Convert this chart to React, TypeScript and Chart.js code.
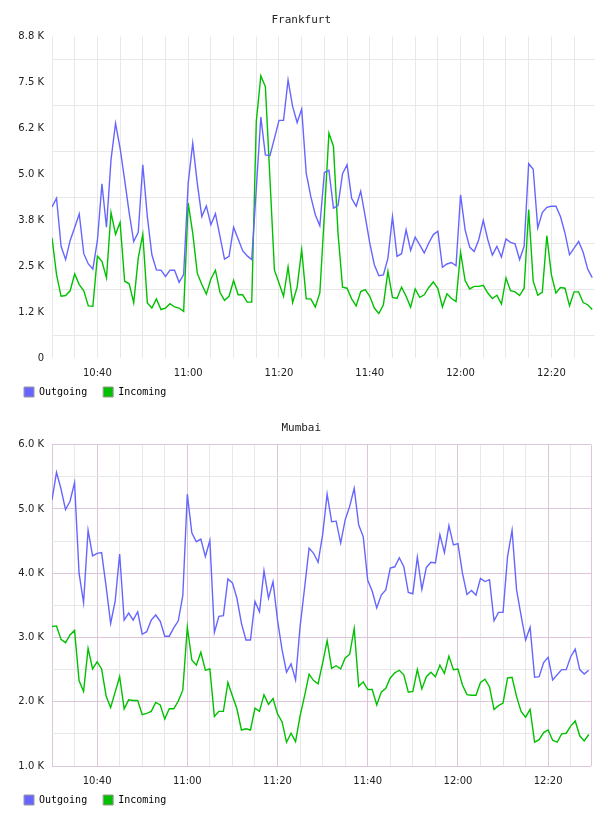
import React, { useEffect, useRef } from 'react';
import { Chart, registerables } from 'chart.js';

Chart.register(...registerables);

// Time axis: one sample per minute, starting 10:30
const START_LABEL = '10:30';
const X_TICK_LABELS: Record<number, string> = {
  10: '10:40',
  30: '11:00',
  50: '11:20',
  70: '11:40',
  90: '12:00',
  110: '12:20',
};

// Frankfurt (values in thousands)
const FRA_OUT = [
  4.11, 4.35, 3.04, 2.68, 3.2, 3.55, 3.92, 2.84, 2.56, 2.42,
  3.2, 4.74, 3.56, 5.4, 6.39, 5.71, 4.85, 3.95, 3.17, 3.42,
  5.26, 3.85, 2.81, 2.4, 2.39, 2.22, 2.39, 2.39, 2.06, 2.27,
  4.76, 5.85, 4.76, 3.85, 4.14, 3.63, 3.93, 3.31, 2.69, 2.77,
  3.56, 3.24, 2.92, 2.78, 2.68, 4.6, 6.56, 5.53, 5.51, 5.98,
  6.47, 6.47, 7.57, 6.85, 6.41, 6.78, 5.03, 4.4, 3.9, 3.6,
  5.05, 5.11, 4.08, 4.15, 5.02, 5.26, 4.35, 4.13, 4.54, 3.85,
  3.13, 2.54, 2.24, 2.26, 2.72, 3.85, 2.77, 2.84, 3.49, 2.93,
  3.29, 3.08, 2.86, 3.13, 3.36, 3.45, 2.47, 2.56, 2.6, 2.51,
  4.44, 3.49, 3.02, 2.9, 3.22, 3.75, 3.22, 2.8, 3.04, 2.75,
  3.24, 3.15, 3.11, 2.68, 3.04, 5.29, 5.14, 3.54, 3.96, 4.1,
  4.13, 4.13, 3.85, 3.4, 2.81, 2.99, 3.17, 2.88, 2.42, 2.19,
];
const FRA_IN = [
  3.27, 2.27, 1.68, 1.7, 1.83, 2.29, 2.0, 1.83, 1.42, 1.41,
  2.77, 2.63, 2.18, 3.96, 3.37, 3.69, 2.09, 2.02, 1.5, 2.72,
  3.37, 1.5, 1.36, 1.61, 1.32, 1.36, 1.48, 1.39, 1.36, 1.27,
  4.22, 3.4, 2.31, 2.0, 1.74, 2.15, 2.39, 1.79, 1.57, 1.68,
  2.11, 1.72, 1.72, 1.52, 1.52, 6.44, 7.68, 7.39, 4.9, 2.39,
  2.04, 1.68, 2.48, 1.51, 1.93, 2.95, 1.61, 1.61, 1.39, 1.77,
  3.9, 6.12, 5.76, 3.4, 1.93, 1.9, 1.61, 1.42, 1.81, 1.86,
  1.68, 1.36, 1.21, 1.45, 2.36, 1.65, 1.62, 1.93, 1.68, 1.38,
  1.88, 1.65, 1.72, 1.92, 2.07, 1.89, 1.39, 1.75, 1.62, 1.54,
  2.88, 2.11, 1.88, 1.95, 1.95, 1.98, 1.77, 1.62, 1.71, 1.47,
  2.18, 1.83, 1.8, 1.7, 1.9, 4.04, 2.09, 1.71, 1.79, 3.33,
  2.27, 1.77, 1.92, 1.9, 1.42, 1.8, 1.8, 1.51, 1.45, 1.32,
];
const FRA_Y_LABELS = ['0', '1.2 K', '2.5 K', '3.8 K', '5.0 K', '6.2 K', '7.5 K', '8.8 K'];

// Mumbai (values in thousands)
const MUM_OUT = [
  5.14, 5.57, 5.31, 4.99, 5.12, 5.41, 4.0, 3.54, 4.67, 4.27,
  4.31, 4.32, 3.79, 3.22, 3.56, 4.3, 3.27, 3.38, 3.27, 3.4,
  3.05, 3.09, 3.27, 3.35, 3.25, 3.02, 3.02, 3.15, 3.26, 3.65,
  5.23, 4.63, 4.49, 4.53, 4.26, 4.51, 3.08, 3.33, 3.34, 3.91,
  3.85, 3.61, 3.22, 2.96, 2.96, 3.56, 3.4, 4.04, 3.61, 3.87,
  3.27, 2.81, 2.46, 2.59, 2.34, 3.17, 3.77, 4.39, 4.31, 4.17,
  4.6, 5.23, 4.8, 4.81, 4.47, 4.83, 5.04, 5.32, 4.75, 4.57,
  3.89, 3.72, 3.46, 3.66, 3.74, 4.08, 4.1, 4.24, 4.1, 3.7,
  3.68, 4.25, 3.75, 4.09, 4.17, 4.16, 4.6, 4.32, 4.74, 4.44,
  4.46, 4.0, 3.67, 3.73, 3.66, 3.92, 3.87, 3.9, 3.26, 3.39,
  3.39, 4.26, 4.67, 3.74, 3.34, 2.96, 3.16, 2.38, 2.39, 2.61,
  2.69, 2.34, 2.42, 2.5, 2.5, 2.7, 2.82, 2.5, 2.43, 2.49,
];
const MUM_IN = [
  3.17, 3.18, 2.97, 2.92, 3.04, 3.11, 2.33, 2.16, 2.83, 2.51,
  2.62, 2.51, 2.09, 1.91, 2.15, 2.39, 1.89, 2.03, 2.02, 2.02,
  1.8, 1.82, 1.85, 1.99, 1.95, 1.73, 1.89, 1.89, 2.01, 2.18,
  3.16, 2.65, 2.57, 2.77, 2.49, 2.51, 1.77, 1.85, 1.85, 2.3,
  2.09, 1.89, 1.56, 1.58, 1.56, 1.9, 1.85, 2.11, 1.96, 2.05,
  1.81, 1.69, 1.37, 1.51, 1.38, 1.78, 2.09, 2.43, 2.33, 2.28,
  2.6, 2.95, 2.52, 2.56, 2.51, 2.68, 2.74, 3.14, 2.24, 2.31,
  2.19, 2.19, 1.95, 2.15, 2.21, 2.37, 2.45, 2.49, 2.42, 2.15,
  2.16, 2.5, 2.2, 2.39, 2.46, 2.39, 2.57, 2.44, 2.71, 2.5,
  2.51, 2.26, 2.11, 2.1, 2.1, 2.3, 2.35, 2.23, 1.88, 1.94,
  1.98, 2.37, 2.38, 2.08, 1.85, 1.76, 1.88, 1.37, 1.41, 1.52,
  1.56, 1.4, 1.37, 1.5, 1.51, 1.62, 1.7, 1.47, 1.39, 1.49,
];
const MUM_Y_LABELS = ['1.0 K', '2.0 K', '3.0 K', '4.0 K', '5.0 K', '6.0 K'];

const SERIES_NAMES = ['Outgoing', 'Incoming'];
const SERIES_COLORS = ['#6666ff', '#00c000'];

const X_MAX = 119.5;
const LABEL_FONT = { family: 'DejaVu Sans', size: 10 };
const MONO = 'DejaVu Sans Mono';
const GRID_GRAY = '#e8e8e8';
const GRID_PURPLE = '#dcc6dc';

type Variant = 'fra' | 'mum';

function toPoints(values: number[]) {
  return values.map((v, i) => ({ x: i, y: v }));
}

// Pulls the legend up so it sits closer to the axis labels, and lets it draw
// past its (small) layout height.
const legendShift = {
  id: 'legendShift',
  afterLayout(chart: any) {
    const lg = chart.legend;
    if (lg) {
      lg.top -= 8;
      lg.bottom = lg.top + 40;
    }
  },
};

function buildConfig(variant: Variant): any {
  const isFra = variant === 'fra';
  const out = isFra ? FRA_OUT : MUM_OUT;
  const inc = isFra ? FRA_IN : MUM_IN;
  const yLabels = isFra ? FRA_Y_LABELS : MUM_Y_LABELS;
  const yMin = isFra ? 0 : 1;
  const yStep = isFra ? 1.25 : 1;
  const yMax = yMin + yStep * (yLabels.length - 1);

  const xTickValues: number[] = [];
  for (let m = 0; m <= 115; m += 5) xTickValues.push(m);
  if (!isFra) xTickValues.push(X_MAX);

  const yTickValues: number[] = [];
  for (let i = 0; i <= (yLabels.length - 1) * 2; i++) yTickValues.push(yMin + (i * yStep) / 2);

  return {
    type: 'line',
    data: {
      datasets: [out, inc].map((vals, k) => ({
        label: SERIES_NAMES[k],
        data: toPoints(vals),
        borderColor: SERIES_COLORS[k],
        backgroundColor: SERIES_COLORS[k],
        borderWidth: 1.4,
        pointRadius: 0,
        tension: 0,
        fill: false,
      })),
    },
    plugins: [legendShift],
    options: {
      animation: false,
      responsive: true,
      maintainAspectRatio: false,
      events: [],
      layout: { padding: { left: 0, right: 5.5, top: 0, bottom: 0 } },
      plugins: {
        tooltip: { enabled: false },
        title: {
          display: true,
          text: isFra ? 'Frankfurt' : 'Mumbai',
          color: '#222',
          font: { family: MONO, size: 11, weight: 'normal' },
          padding: isFra ? { top: 5.4, bottom: 10 } : { top: 20.4, bottom: 10.1 },
        },
        legend: {
          display: true,
          position: 'bottom',
          align: 'start',
          maxHeight: isFra ? 22 : 20,
          labels: {
            boxWidth: 10,
            boxHeight: 10,
            padding: 16,
            color: '#000',
            font: { family: MONO, size: 10 },
            generateLabels: (chart: any) =>
              chart.data.datasets.map((ds: any, i: number) => ({
                text: ds.label,
                fillStyle: ds.borderColor,
                strokeStyle: '#999999',
                lineWidth: 1,
                hidden: false,
                datasetIndex: i,
              })),
          },
        },
      },
      scales: {
        x: {
          type: 'linear',
          min: 0,
          max: X_MAX,
          afterBuildTicks: (scale: any) => {
            scale.ticks = xTickValues.map((v) => ({ value: v }));
          },
          afterFit: (scale: any) => {
            scale.height = 21;
          },
          ticks: {
            autoSkip: false,
            maxRotation: 0,
            padding: 9,
            color: '#222',
            font: LABEL_FONT,
            callback: (value: number) => X_TICK_LABELS[value] || '',
          },
          grid: {
            drawTicks: false,
            lineWidth: 1,
            color: (ctx: any) => {
              if (isFra) return GRID_GRAY;
              const v = ctx.tick ? ctx.tick.value : 0;
              if (v === 0 || v === X_MAX || v % 20 === 10) return GRID_PURPLE;
              return GRID_GRAY;
            },
          },
          border: { display: false },
        },
        y: {
          type: 'linear',
          min: yMin,
          max: yMax,
          afterBuildTicks: (scale: any) => {
            scale.ticks = yTickValues.map((v) => ({ value: v }));
          },
          afterFit: (scale: any) => {
            scale.width = 44;
          },
          ticks: {
            autoSkip: false,
            padding: 8,
            color: '#222',
            font: LABEL_FONT,
            callback: (_v: number, index: number) => (index % 2 === 0 ? yLabels[index / 2] : ''),
          },
          grid: {
            drawTicks: false,
            lineWidth: 1,
            color: (ctx: any) => {
              const idx = ctx.index;
              if (isFra) return idx % 2 === 1 ? GRID_GRAY : 'rgba(0,0,0,0)';
              return idx % 2 === 0 ? GRID_PURPLE : GRID_GRAY;
            },
          },
          border: { display: false },
        },
      },
    },
  };
}

function TrafficChart({ variant, height }: { variant: Variant; height: number }) {
  const ref = useRef<HTMLCanvasElement | null>(null);
  useEffect(() => {
    if (!ref.current) return;
    const chart = new Chart(ref.current, buildConfig(variant));
    return () => chart.destroy();
  }, [variant]);
  return (
    <div style={{ position: 'relative', width: 592, height }}>
      <canvas ref={ref} style={{ display: 'block' }} aria-label={START_LABEL} />
    </div>
  );
}

export default function App() {
  return (
    <div style={{ width: 592 }}>
      <TrafficChart variant="fra" height={393} />
      <TrafficChart variant="mum" height={406} />
    </div>
  );
}
